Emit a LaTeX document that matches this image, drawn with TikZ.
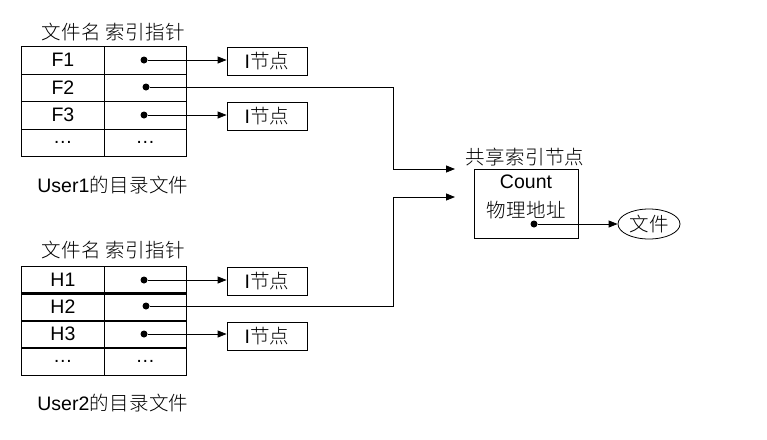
\documentclass[tikz,border=0pt]{standalone}
\usepackage{fontspec}
\setmainfont{Liberation Sans}
\newfontfamily\cjk[UprightFont={* Light},LetterSpace=2]{Noto Sans CJK SC}
\usetikzlibrary{arrows.meta,shapes.geometric}
\begin{document}
\begin{tikzpicture}[x=1pt,y=-1pt,line width=0.8pt,
  every node/.style={font=\fontsize{19.5}{22}\selectfont},
  cellL/.style={draw,rectangle,minimum width=83pt,minimum height=27.5pt,inner sep=0pt,anchor=north west},
  cellR/.style={draw,rectangle,minimum width=82pt,minimum height=27.5pt,inner sep=0pt,anchor=north west},
  inode/.style={draw,rectangle,minimum width=80pt,minimum height=28pt,inner sep=0pt},
  pdot/.style={circle,fill=black,inner sep=0pt,minimum size=7pt},
  arr/.style={-{Triangle[length=9pt,width=7pt]}},
  lbl/.style={inner sep=0pt,anchor=west}]
\useasboundingbox (0,0) rectangle (767,439);
% ---- table 1
\node[lbl] (h1) at (41,32) {\cjk 文件名 索引指针};
\node[cellL] (f1) at (21,46) {F1};
\node[cellR] (p1) at (104,46) {};
\node[cellL] (f2) at (21,73.5) {F2};
\node[cellR] (p2) at (104,73.5) {};
\node[cellL] (f3) at (21,101) {F3};
\node[cellR] (p3) at (104,101) {};
\node[cellL] (f4) at (21,128.5) {\ldots};
\node[cellR] (p4) at (104,128.5) {\ldots};
\node[lbl] (u1) at (37,185) {User1{\cjk 的目录文件}};
\node[pdot] (d1) at (144,60) {};
\node[pdot] (d2) at (146,87) {};
\node[pdot] (d3) at (144,115) {};
\node[inode] (i1) at (267,61) {I{\cjk 节点}};
\node[inode] (i2) at (267,116) {I{\cjk 节点}};
% ---- table 2
\node[lbl] (h2) at (41,250) {\cjk 文件名 索引指针};
\node[cellL] (g1) at (21,266) {H1};
\node[cellR] (q1) at (104,266) {};
\node[cellL] (g2) at (21,293) {H2};
\node[cellR] (q2) at (104,293) {};
\node[cellL] (g3) at (21,320) {H3};
\node[cellR] (q3) at (104,320) {};
\node[cellL] (g4) at (21,347) {\ldots};
\node[cellR] (q4) at (104,347) {\ldots};
\draw[line width=1.6pt] (g2.north west) -- (q2.north east);
\node[lbl] (u2) at (37,403) {User2{\cjk 的目录文件}};
\node[pdot] (e1) at (144,280) {};
\node[pdot] (e2) at (146,306) {};
\node[pdot] (e3) at (144,334) {};
\node[inode] (j1) at (267,281) {I{\cjk 节点}};
\node[inode] (j2) at (267,336) {I{\cjk 节点}};
% ---- shared inode
\node[draw,rectangle,minimum width=104pt,minimum height=69pt,inner sep=0pt] (sh) at (526,203.5) {};
\node[inner sep=0pt] (shl) at (525,157) {\cjk 共享索引节点};
\node[inner sep=0pt] (cnt) at (526,182) {Count};
\node[inner sep=0pt] (addr) at (526,210) {\cjk 物理地址};
\node[pdot] (sd) at (534,224) {};
\node[draw,ellipse,minimum width=62pt,minimum height=30pt,inner sep=0pt] (file) at (649,224) {\cjk 文件};
\coordinate (v) at (393,0);
\coordinate (t1) at (455,169);
\coordinate (t2) at (455,197);
% ---- connectors
\draw[arr] (d1) -- (d1 -| i1.west);
\draw[arr] (d3) -- (d3 -| i2.west);
\draw[arr] (e1) -- (e1 -| j1.west);
\draw[arr] (e3) -- (e3 -| j2.west);
\draw[arr] (d2) -- (d2 -| v) |- (t1);
\draw[arr] (e2) -- (e2 -| v) |- (t2);
\draw[arr] (sd) -- (file.west);
\end{tikzpicture}
\end{document}
